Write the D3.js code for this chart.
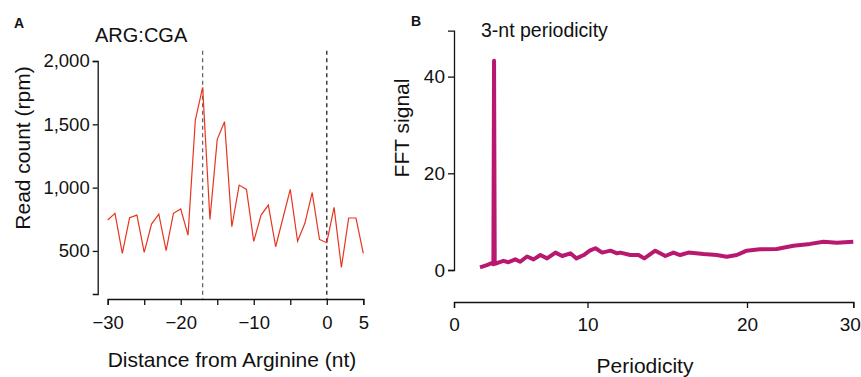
<!DOCTYPE html>
<html>
<head>
<meta charset="utf-8">
<script src="https://cdn.jsdelivr.net/npm/d3@7"></script>
<style>
  body { margin: 0; background: #fff; }
  svg text { font-family: "Liberation Sans", Arial, sans-serif; fill: #111; }
  .axis path, .axis line { stroke: #111; stroke-width: 1.3; }
</style>
</head>
<body>
<div id="graphicContainer"></div>
<script>

// Panel A: read count around the arginine codon
var distance = d3.range(-30, 6)
var readCount = [744, 797, 481, 762, 783, 489, 712, 791, 502, 797,
	831, 625, 1534, 1792, 749, 1381, 1521, 691, 1020, 986,
	576, 783, 862, 533, 760, 986, 576, 718, 960, 591,
	565, 844, 370, 760, 760, 481]
var dashedAt = [-17, 0]
var xTicksA = [-30, -25, -20, -15, -10, -5, 0, 5]
var xLabelsA = [-30, -20, -10, 0, 5]
var yTicksA = [500, 1000, 1500, 2000]

// Panel B: FFT signal by periodicity
var period = [1.95, 2.46, 2.83, 2.95, 3.0, 3.05, 3.21, 3.7, 4.08, 4.59,
	4.96, 5.47, 5.96, 6.47, 6.97, 7.6, 8.1, 8.72, 9.17, 9.72,
	10.14, 10.5, 10.92, 11.44, 11.86, 12.06, 12.69, 13.2, 13.56, 14.25,
	14.88, 15.39, 15.81, 16.33, 17.27, 18.1, 18.73, 19.36, 19.98, 21.2,
	22.8, 24.37, 25.94, 27.2, 28.46, 30]
var fftSignal = [0.55, 1.0, 1.4, 1.2, 43.3, 1.3, 1.4, 1.9, 1.6, 2.2,
	1.7, 2.8, 2.2, 3.1, 2.4, 3.6, 2.9, 3.45, 2.4, 3.1,
	4.0, 4.5, 3.6, 4.0, 3.45, 3.6, 3.1, 3.1, 2.4, 4.0,
	2.9, 3.6, 3.1, 3.6, 3.3, 3.1, 2.76, 3.1, 4.0, 4.3,
	4.35, 5.0, 5.4, 5.85, 5.65, 5.85]
var xTicksB = [0, 10, 20, 30]
var yTicksB = [0, 20, 40]

var width = 861
var height = 377

var svg = d3.select("#graphicContainer").append("svg")
	.attr("width", width)
	.attr("height", height)

svg.append("rect").attr("width", width).attr("height", height).attr("fill", "#fff")

// ---------- Panel A ----------
var xA = d3.scaleLinear().domain([-30, 5]).range([107.7, 363.3])
var yA = d3.scaleLinear().domain([160, 2000]).range([294, 61])
var xAxisY = 299

svg.append("g")
	.attr("class", "axis")
	.attr("transform", "translate(0," + xAxisY + ")")
	.call(d3.axisBottom(xA).tickValues(xTicksA).tickSizeOuter(0).tickSize(6).tickPadding(11)
		.tickFormat(d => xLabelsA.includes(d) ? d3.format("")(d) : ""))
	.selectAll("text").attr("font-size", 18.5)

svg.append("g")
	.attr("class", "axis")
	.attr("transform", "translate(97.7,0)")
	.call(d3.axisLeft(yA).tickValues(yTicksA).tickSizeOuter(0).tickSize(5).tickPadding(3)
		.tickFormat(d3.format(",")))
	.selectAll("text").attr("font-size", 18.5)

svg.selectAll(".dashA")
	.data(dashedAt)
	.enter()
	.append("line")
	.attr("x1", d => xA(d))
	.attr("x2", d => xA(d))
	.attr("y1", yA(2080))
	.attr("y2", xAxisY)
	.attr("stroke", (d, i) => i == 0 ? "#666" : "#222")
	.attr("stroke-width", 1.3)
	.attr("stroke-dasharray", "4 3.5")

var lineA = d3.line()
	.x((d, i) => xA(distance[i]))
	.y(d => yA(d))

svg.append("path")
	.datum(readCount)
	.attr("d", lineA)
	.attr("fill", "none")
	.attr("stroke", "#e6361f")
	.attr("stroke-width", 1.2)

svg.append("text").attr("x", 14).attr("y", 28).attr("font-size", 14).attr("font-weight", "bold").text("A")
svg.append("text").attr("x", 95).attr("y", 42).attr("font-size", 20).text("ARG:CGA")

svg.append("text")
	.attr("transform", "translate(30,148) rotate(-90)")
	.attr("text-anchor", "middle")
	.attr("font-size", 21)
	.text("Read count (rpm)")

svg.append("text")
	.attr("x", 232)
	.attr("y", 367)
	.attr("text-anchor", "middle")
	.attr("font-size", 21)
	.text("Distance from Arginine (nt)")

// ---------- Panel B ----------
var xB = d3.scaleLinear().domain([0, 10, 20, 30]).range([454, 587.5, 747, 853.3])
var yB = d3.scaleLinear().domain([0, 49.5]).range([270, 30.7])
var xAxisYB = 302

var xAxisB = svg.append("g")
	.attr("class", "axis")
	.attr("transform", "translate(0," + xAxisYB + ")")
	.call(d3.axisBottom(xB).tickValues(xTicksB).tickSizeOuter(0).tickSize(6).tickPadding(10))

xAxisB.selectAll("text").attr("font-size", 19)
// keep the last label inside the page
xAxisB.selectAll("text").filter(d => d === 30).attr("text-anchor", "end").attr("x", 7)

svg.append("g")
	.attr("class", "axis")
	.attr("transform", "translate(454,0)")
	.call(d3.axisLeft(yB).tickValues(yTicksB).tickSizeOuter(0).tickSize(6).tickPadding(3))
	.selectAll("text").attr("font-size", 19)

var lineB = d3.line()
	.x((d, i) => xB(period[i]))
	.y(d => yB(d))

svg.append("path")
	.datum(fftSignal)
	.attr("d", lineB)
	.attr("fill", "none")
	.attr("stroke", "#b8186f")
	.attr("stroke-width", 4)
	.attr("stroke-linejoin", "round")

svg.append("text").attr("x", 411).attr("y", 26).attr("font-size", 14).attr("font-weight", "bold").text("B")
svg.append("text").attr("x", 481).attr("y", 37).attr("font-size", 19.5).text("3-nt periodicity")

svg.append("text")
	.attr("transform", "translate(409,128) rotate(-90)")
	.attr("text-anchor", "middle")
	.attr("font-size", 21)
	.text("FFT signal")

svg.append("text")
	.attr("x", 645)
	.attr("y", 373)
	.attr("text-anchor", "middle")
	.attr("font-size", 21)
	.text("Periodicity")

</script>
</body>
</html>
